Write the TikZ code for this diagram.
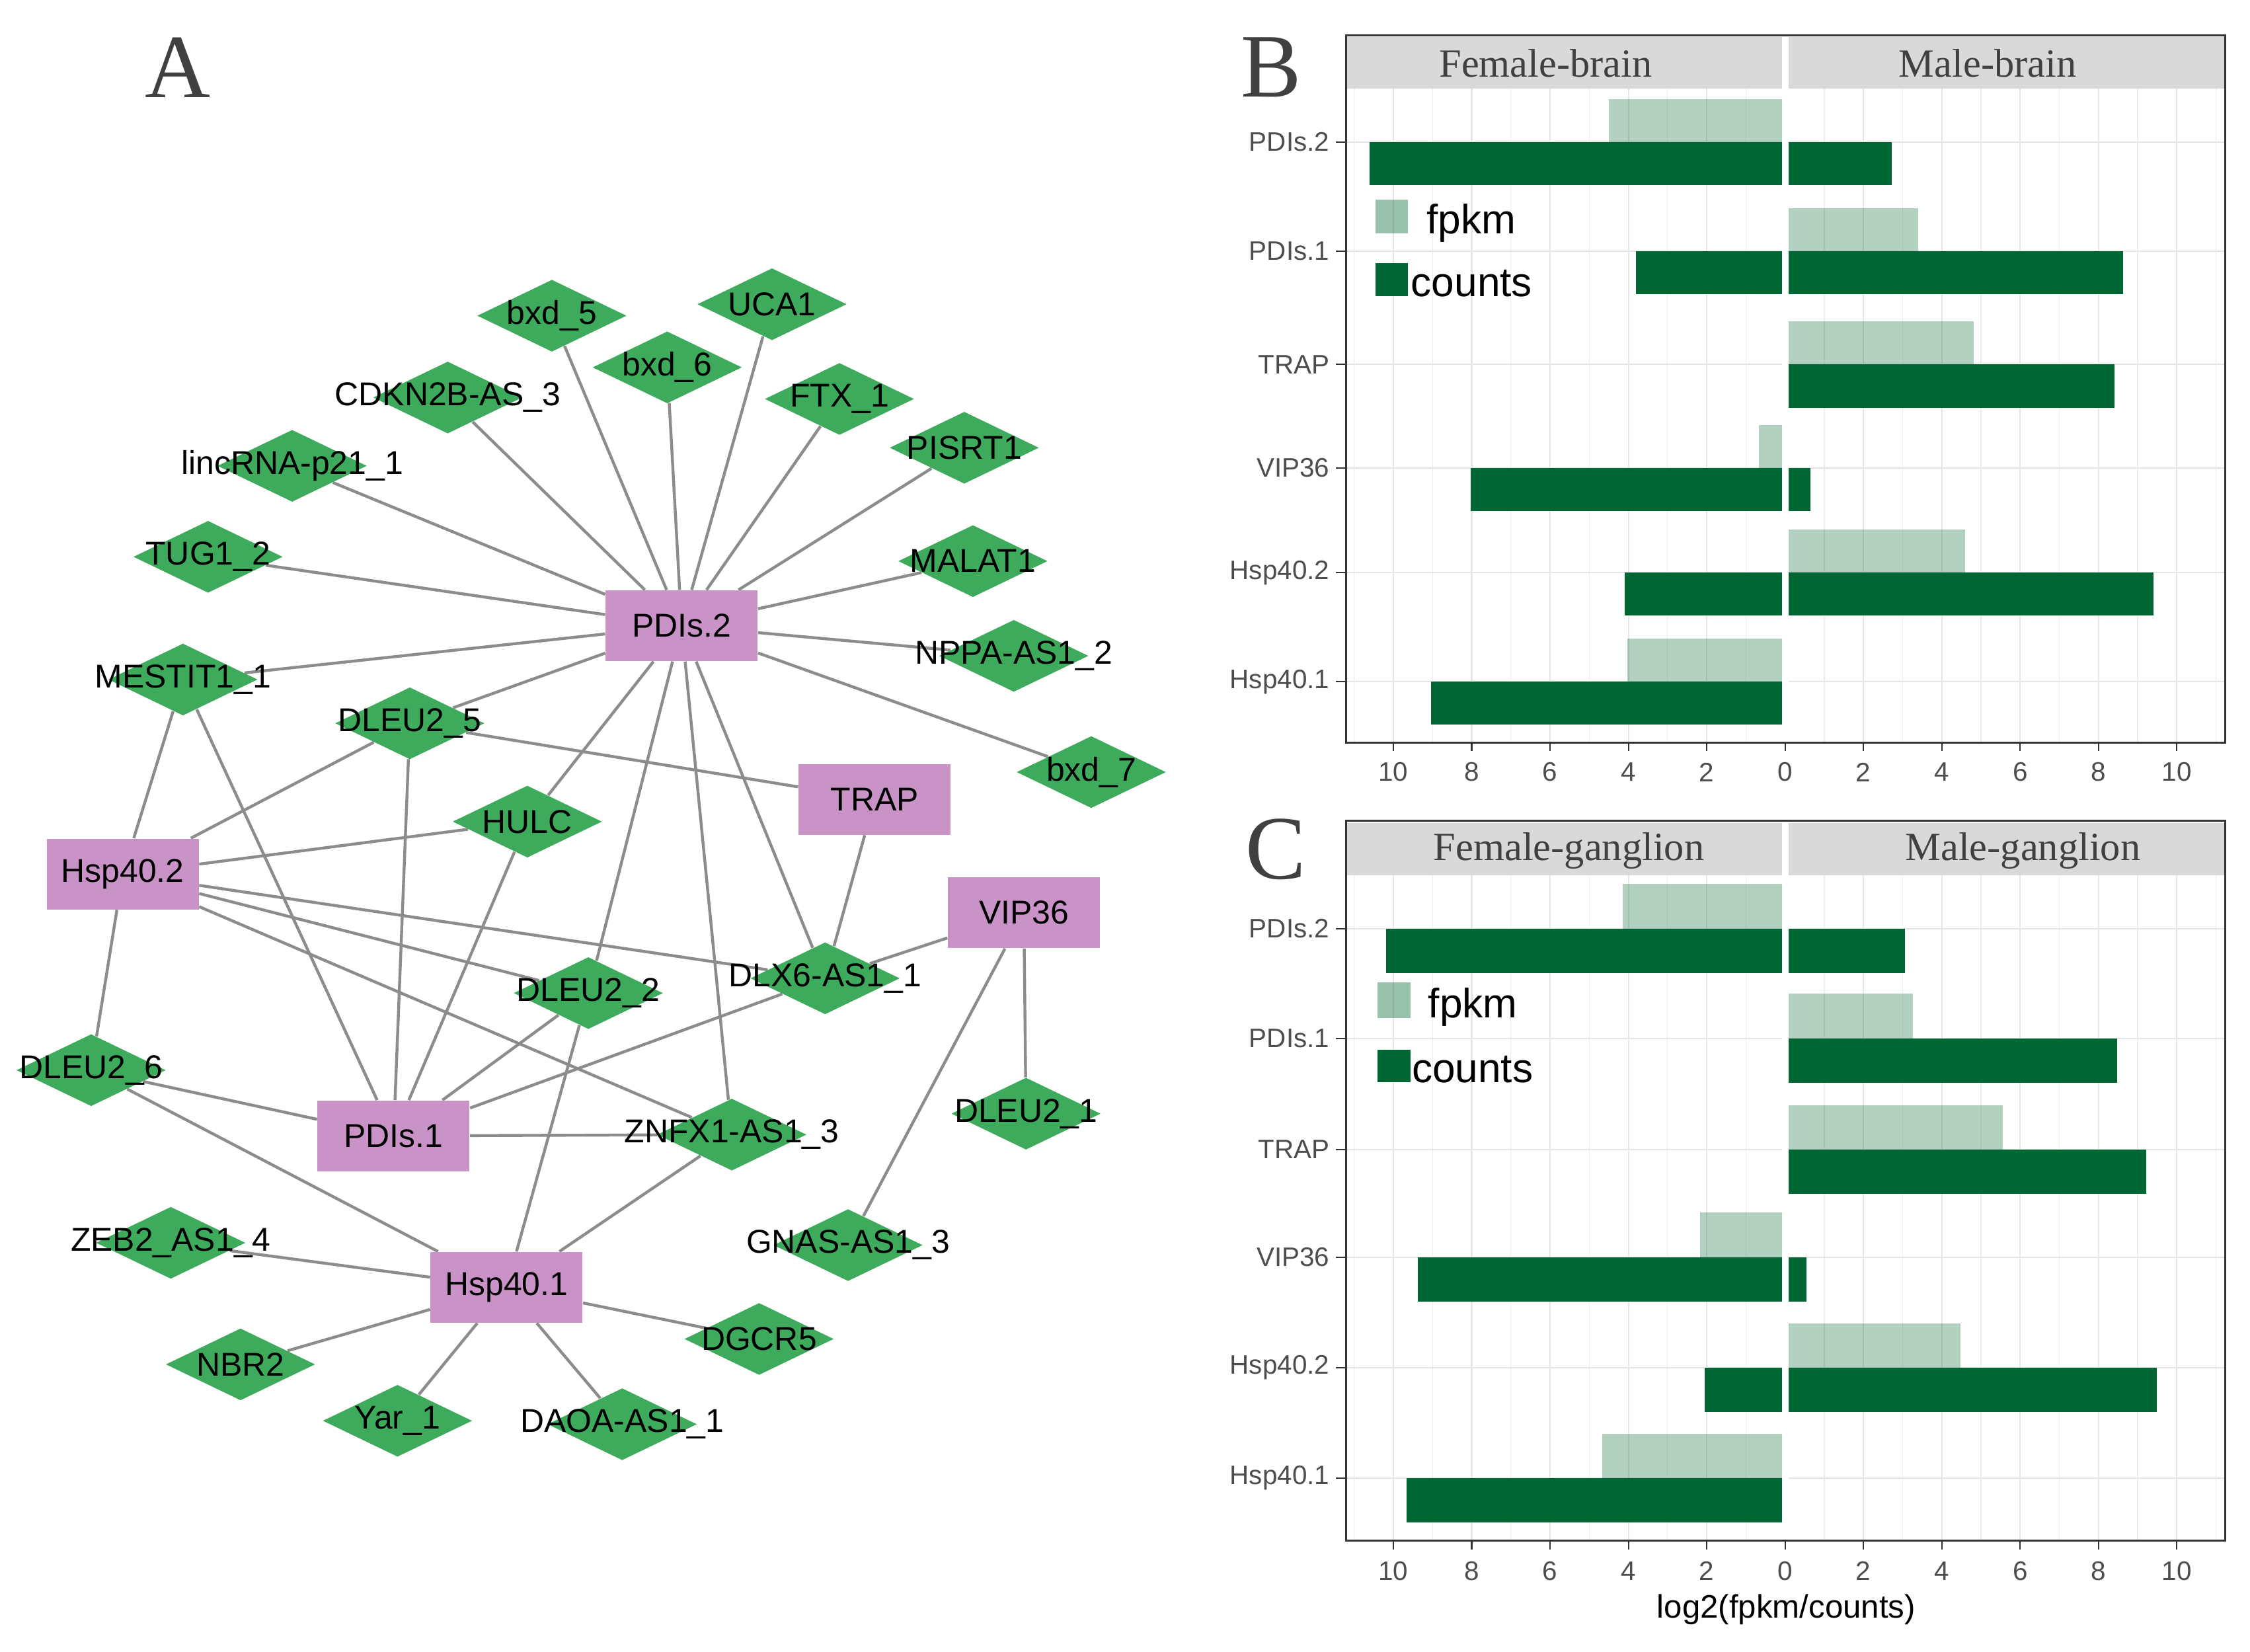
\documentclass[tikz,border=0pt]{standalone}
\usepackage{fontspec}
\setmainfont{Liberation Sans}
\newfontfamily\stripfont{Liberation Serif}
\usetikzlibrary{shapes.geometric, backgrounds}
\definecolor{lilac}{HTML}{C993C8}
\definecolor{leaf}{HTML}{3DAA5C}
\definecolor{wire}{HTML}{8C8C8C}
\definecolor{forest}{HTML}{006633}
\definecolor{stripgray}{HTML}{D9D9D9}
\definecolor{gridgray}{HTML}{E6E6E6}
\definecolor{inkgray}{HTML}{4D4D4D}
\definecolor{framegray}{HTML}{333333}
\definecolor{lettergray}{HTML}{404040}

\begin{document}
\begin{tikzpicture}[
    x=0.2171mm, y=-0.2171mm,
    gene/.style={rectangle, fill=lilac, minimum width=2.30cm, minimum height=1.07cm,
      inner sep=0pt, font=\fontsize{14.2}{17}\selectfont},
    lnctext/.style={inner sep=0pt, font=\fontsize{14.2}{17}\selectfont},
    lnc/.style={diamond, fill=leaf, minimum width=2.26cm, minimum height=1.09cm,
      inner sep=0pt, label={[lnctext]center:#1}},
    link/.style={draw=wire, line width=1.25pt},
    letter/.style={font=\stripfont\fontsize{39}{40}\selectfont, text=lettergray, inner sep=0pt},
    striptext/.style={font=\stripfont\fontsize{17.2}{20}\selectfont, text=lettergray, inner sep=0pt},
    ticktext/.style={font=\fontsize{11.5}{13}\selectfont, text=inkgray, inner sep=0pt},
    keytext/.style={font=\fontsize{17.7}{20}\selectfont, anchor=base west, inner sep=0pt},
    gridmajor/.style={draw=gridgray, line width=0.6pt},
    gridminor/.style={draw=gridgray!70, line width=0.35pt},
    fpkmbar/.style={fill=forest, fill opacity=0.3},
    fpkmkey/.style={fill=forest, fill opacity=0.4},
    countbar/.style={fill=forest},
    panelframe/.style={draw=framegray, line width=0.85pt},
    axistick/.style={draw=framegray, line width=0.6pt}
  ]
  \useasboundingbox (0,0) rectangle (1568,1151);

  % A: network
  \node[letter] (letterA) at (124,47) {A};

  \node[gene] (pdisTwo) at (475,436) {PDIs.2};
  \node[gene] (trap) at (609.5,557) {TRAP};
  \node[gene] (hspTwo) at (85.5,609) {Hsp40.2};
  \node[gene] (vip) at (713.5,636) {VIP36};
  \node[gene] (pdisOne) at (274.3,791.5) {PDIs.1};
  \node[gene] (hspOne) at (353,897) {Hsp40.1};

  \node[lnc=bxd\_5] (bxdFive) at (384.6,220) {};
  \node[lnc=UCA1] (ucaOne) at (538,212) {};
  \node[lnc=bxd\_6] (bxdSix) at (465,256) {};
  \node[lnc=CDKN2B-AS\_3] (cdkn) at (312,277) {};
  \node[lnc=FTX\_1] (ftx) at (585,278) {};
  \node[lnc=lincRNA-p21\_1] (linc) at (203.6,324.6) {};
  \node[lnc=PISRT1] (pisrt) at (672,312) {};
  \node[lnc=TUG1\_2] (tug) at (145,388) {};
  \node[lnc=MALAT1] (malat) at (678,391) {};
  \node[lnc=NPPA-AS1\_2] (nppa) at (706.5,457) {};
  \node[lnc=MESTIT1\_1] (mestit) at (127.5,473.5) {};
  \node[lnc=DLEU2\_5] (dleuFive) at (285.6,504) {};
  \node[lnc=bxd\_7] (bxdSeven) at (760.5,538) {};
  \node[lnc=HULC] (hulc) at (367.5,572.5) {};
  \node[lnc=DLX6-AS1\_1] (dlx) at (575,681.7) {};
  \node[lnc=DLEU2\_2] (dleuTwo) at (410,692) {};
  \node[lnc=DLEU2\_6] (dleuSix) at (63.5,745.7) {};
  \node[lnc=DLEU2\_1] (dleuOne) at (715,776) {};
  \node[lnc=ZNFX1-AS1\_3] (znfx) at (510,790.6) {};
  \node[lnc=ZEB2\_AS1\_4] (zeb) at (119,866) {};
  \node[lnc=GNAS-AS1\_3] (gnas) at (591,867.6) {};
  \node[lnc=DGCR5] (dgcr) at (529,933) {};
  \node[lnc=NBR2] (nbr) at (167.6,950.7) {};
  \node[lnc=Yar\_1] (yar) at (277,990) {};
  \node[lnc=DAOA-AS1\_1] (daoa) at (433.6,992.4) {};

  \begin{scope}[on background layer]
    \foreach \n in {bxdFive, ucaOne, bxdSix, cdkn, ftx, linc, pisrt, tug, malat, nppa,
                    mestit, dleuFive, hulc, dleuTwo, znfx, dlx, bxdSeven}
      \draw[link] (pdisTwo) -- (\n);
    \foreach \n in {mestit, dleuFive, hulc, dlx, dleuTwo, znfx, dleuSix}
      \draw[link] (hspTwo) -- (\n);
    \foreach \n in {mestit, dleuFive, hulc, dleuTwo, dlx, znfx, dleuSix}
      \draw[link] (pdisOne) -- (\n);
    \foreach \n in {dleuSix, dleuTwo, znfx, zeb, nbr, yar, daoa, dgcr}
      \draw[link] (hspOne) -- (\n);
    \foreach \n in {dleuFive, dlx}
      \draw[link] (trap) -- (\n);
    \foreach \n in {dlx, gnas, dleuOne}
      \draw[link] (vip) -- (\n);
  \end{scope}

  % B: brain
  \node[letter] (letterB) at (886,47) {B};
  \begin{scope}[shift={(1244,0)}, x=5.927mm]
    \fill[stripgray] (-11.21,26) rectangle (11.23,61.7);
    \foreach \v in {-11,-9,...,11} \draw[gridminor] (\v,61.7) -- (\v,517.5);
    \foreach \v in {-10,-8,...,10} \draw[gridmajor] (\v,61.7) -- (\v,517.5);
    \foreach \c in {99,175,254,326,399,475} \draw[gridmajor] (-11.21,\c) -- (11.23,\c);
    \foreach \c/\v in {99/-4.5, 326/-0.67, 475/-4.03, 175/3.39, 254/4.82, 399/4.6}
      \fill[fpkmbar] (0,\c-30) rectangle (\v,\c);
    \foreach \c/\v in {99/-10.6, 175/-3.8, 326/-8.02, 399/-4.1, 475/-9.04,
                       99/2.72, 175/8.62, 254/8.4, 326/0.65, 399/9.41}
      \fill[countbar] (0,\c) rectangle (\v,\c+30);
    \draw[white, line width=0.98mm] (0,25.5) -- (0,517);
    \draw[panelframe] (-11.21,24.7) rectangle (11.23,517.5);
    \node[striptext] (femaleBrain) at (-6.11,44) {Female-brain};
    \node[striptext] (maleBrain) at (5.17,44) {Male-brain};
    \foreach \v [count=\i] in {-10,-8,...,10} {
      \draw[axistick] (\v,517.5) -- (\v,523.5);
      \pgfmathtruncatemacro{\absv}{abs(\v)}
      \node[ticktext] (bxtick\i) at (\v,538) {\absv};
    }
    \foreach \c/\txt [count=\i] in {99/PDIs.2, 175/PDIs.1, 254/TRAP, 326/VIP36, 399/Hsp40.2, 475/Hsp40.1} {
      \draw[axistick] (-11.46,\c) -- (-11.21,\c);
      \node[ticktext, anchor=east] (bytick\i) at (-11.62,\c) {\txt};
    }
  \end{scope}
  \fill[fpkmkey] (958.6,139) rectangle (981.3,162.7);
  \fill[countbar] (958.6,183.5) rectangle (981.3,206.5);
  \node[keytext] (fpkmB) at (994,162.7) {fpkm};
  \node[keytext] (countsB) at (983,206.5) {counts};

  % C: ganglion
  \node[letter] (letterC) at (889,592) {C};
  \begin{scope}[shift={(1244,0)}, x=5.927mm]
    \fill[stripgray] (-11.21,573.5) rectangle (11.23,610);
    \foreach \v in {-11,-9,...,11} \draw[gridminor] (\v,610) -- (\v,1073.7);
    \foreach \v in {-10,-8,...,10} \draw[gridmajor] (\v,610) -- (\v,1073.7);
    \foreach \c in {647,723.5,801,876,953,1030} \draw[gridmajor] (-11.21,\c) -- (11.23,\c);
    \foreach \c/\v in {647/-4.15, 876/-2.17, 1030/-4.67, 723.5/3.27, 801/5.55, 953/4.47}
      \fill[fpkmbar] (0,\c-31) rectangle (\v,\c);
    \foreach \c/\v in {647/-10.19, 876/-9.38, 953/-2.05, 1030/-9.67,
                       647/3.06, 723.5/8.48, 801/9.22, 876/0.54, 953/9.48}
      \fill[countbar] (0,\c) rectangle (\v,\c+31);
    \draw[white, line width=0.98mm] (0,573) -- (0,1073.2);
    \draw[panelframe] (-11.21,571.8) rectangle (11.23,1073.7);
    \node[striptext] (femaleGanglion) at (-5.52,592.8) {Female-ganglion};
    \node[striptext] (maleGanglion) at (6.07,592.8) {Male-ganglion};
    \foreach \v [count=\i] in {-10,-8,...,10} {
      \draw[axistick] (\v,1073.7) -- (\v,1079.7);
      \pgfmathtruncatemacro{\absv}{abs(\v)}
      \node[ticktext] (cxtick\i) at (\v,1094.7) {\absv};
    }
    \foreach \c/\txt [count=\i] in {647/PDIs.2, 723.5/PDIs.1, 801/TRAP, 876/VIP36, 953/Hsp40.2, 1030/Hsp40.1} {
      \draw[axistick] (-11.46,\c) -- (-11.21,\c);
      \node[ticktext, anchor=east] (cytick\i) at (-11.62,\c) {\txt};
    }
  \end{scope}
  \fill[fpkmkey] (960,684.4) rectangle (983,709.2);
  \fill[countbar] (960,731.3) rectangle (983,754.2);
  \node[keytext] (fpkmC) at (995,709.2) {fpkm};
  \node[keytext] (countsC) at (983.6,754.2) {counts};
  \node[font=\fontsize{14}{16}\selectfont] (xtitle) at (1244.8,1121.4) {log2(fpkm/counts)};
\end{tikzpicture}
\end{document}
